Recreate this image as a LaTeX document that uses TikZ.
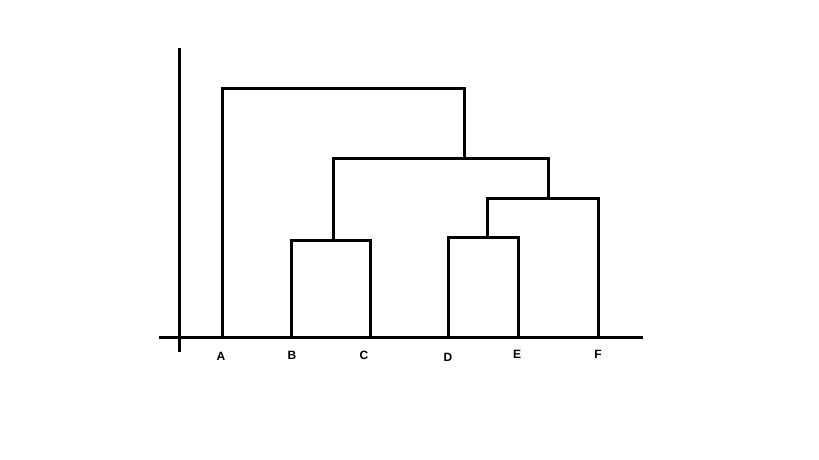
\documentclass[tikz,border=0pt]{standalone}
\usepackage{fontspec}
\setmainfont{Liberation Sans}
\usetikzlibrary{positioning}

\begin{document}
\begin{tikzpicture}[x=1pt,y=-1pt,line width=3pt,inner sep=1pt,
  leaflabel/.style={font=\fontsize{12}{12}\selectfont\bfseries}]
\useasboundingbox (0,0) rectangle (819,460);
% axes
\coordinate (xs) at (159,337);
\coordinate (xe) at (643,337);
\coordinate (ys) at (179,48);
\coordinate (ye) at (179,352);
\draw (xs) -- (xe);
\draw (ys) -- (ye);
% leaves
\coordinate (A) at (222,337);
\coordinate (B) at (291,337);
\coordinate (C) at (370,337);
\coordinate (D) at (448,337);
\coordinate (E) at (518,337);
\coordinate (F) at (598,337);
\node[leaflabel] (lA) at (221,356) {A};
\node[leaflabel] (lB) at (292,355) {B};
\node[leaflabel] (lC) at (364,355) {C};
\node[leaflabel] (lD) at (448,357) {D};
\node[leaflabel] (lE) at (517,354) {E};
\node[leaflabel] (lF) at (598,354) {F};
% merges
\coordinate (BC) at (333,240);
\coordinate (DE) at (487,237);
\coordinate (DEF) at (548,198);
\coordinate (BCDEF) at (464,158);
\coordinate (root) at (464,88);
\draw (B) |- (BC) -| (C);
\draw (D) |- (DE) -| (E);
\draw (DE) |- (DEF) -| (F);
\draw (BC) |- (BCDEF) -| (DEF);
\draw (A) |- (root) -- (BCDEF);
\end{tikzpicture}
\end{document}
